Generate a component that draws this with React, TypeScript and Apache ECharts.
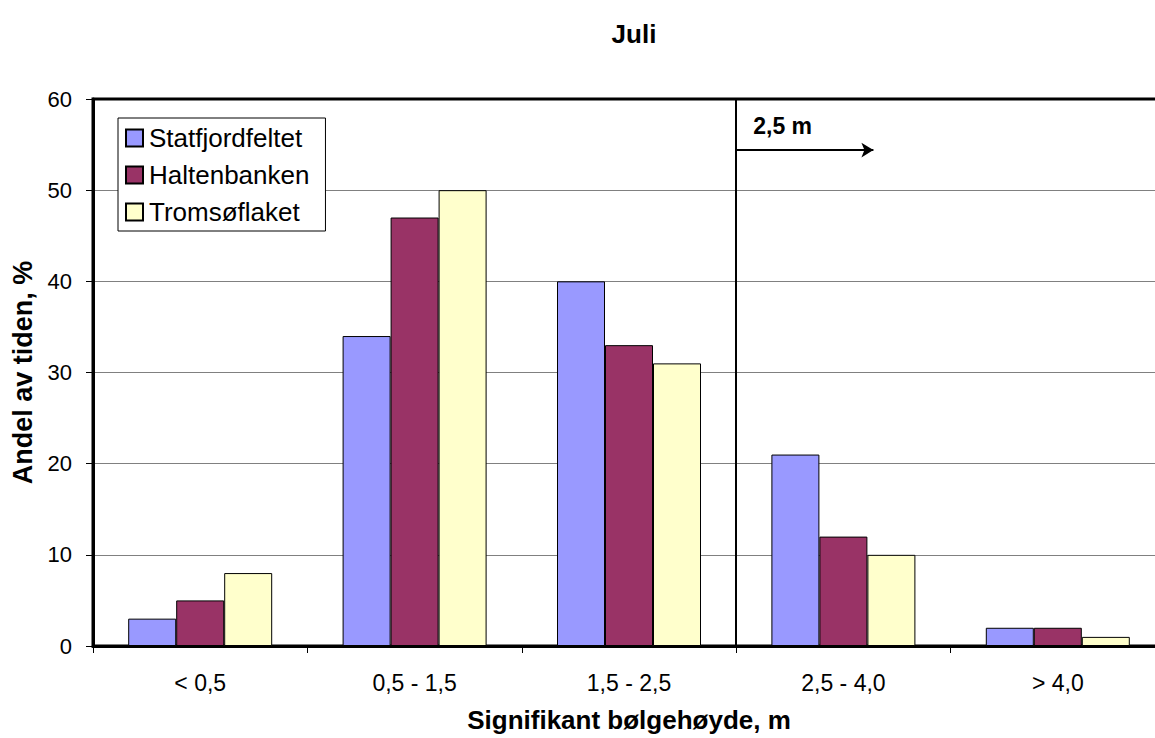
import React, { useEffect, useRef } from "react";
import * as echarts from "echarts";

const categories = ["< 0,5", "0,5 - 1,5", "1,5 - 2,5", "2,5 - 4,0", "> 4,0"];
const seriesNames = ["Statfjordfeltet", "Haltenbanken", "Tromsøflaket"];
const statfjord = [3, 34, 40, 21, 2];
const halten = [5, 47, 33, 12, 2];
const tromso = [8, 50, 31, 10, 1];
const seriesColors = ["#9999FF", "#993366", "#FFFFCC"];
const thresholdPos = 3; // boundary between "1,5 - 2,5" and "2,5 - 4,0"
const arrowEnd = 3.64;
const arrowLevel = 54.4;

const FONT = "'Liberation Sans', Arial, sans-serif";

export default function App() {
  const ref = useRef<HTMLDivElement>(null);

  useEffect(() => {
    if (!ref.current) return;
    const chart = echarts.init(ref.current, null, { renderer: "svg" });
    const values = [statfjord, halten, tromso];

    const bars = values.map((data, i) => ({
      name: seriesNames[i],
      type: "bar",
      data,
      barWidth: 48,
      barGap: "0%",
      itemStyle: { color: seriesColors[i], borderColor: "#000", borderWidth: 1 },
      emphasis: { disabled: true },
    }));

    chart.setOption({
      animation: false,
      textStyle: { fontFamily: FONT },
      title: {
        text: "Juli",
        left: 629,
        textAlign: "center",
        top: 16,
        textStyle: { fontSize: 26, fontWeight: "bold", color: "#000", fontFamily: FONT },
      },
      legend: {
        data: seriesNames,
        orient: "vertical",
        left: 118,
        top: 118,
        icon: "rect",
        itemWidth: 17,
        itemHeight: 17,
        itemGap: 11,
        padding: [7, 16, 6, 7],
        backgroundColor: "#fff",
        borderColor: "#000",
        borderWidth: 1,
        textStyle: { fontSize: 26, color: "#000", fontFamily: FONT, padding: [0, 0, 0, 1] },
      },
      grid: {
        left: 93,
        top: 99,
        right: 10,
        bottom: 90,
        show: true,
        borderColor: "#000",
        borderWidth: 3,
        backgroundColor: "transparent",
      },
      xAxis: [
        {
          type: "category",
          data: categories,
          name: "Signifikant bølgehøyde, m",
          nameLocation: "middle",
          nameGap: 61,
          nameTextStyle: { fontSize: 26, fontWeight: "bold", color: "#000", fontFamily: FONT },
          axisLine: { lineStyle: { color: "#000", width: 3 } },
          axisTick: { show: true, length: 7, lineStyle: { color: "#000", width: 1 } },
          axisLabel: { fontSize: 23, color: "#000", margin: 25, fontFamily: FONT },
        },
        {
          type: "value",
          min: 0,
          max: 5,
          show: false,
        },
      ],
      yAxis: {
        type: "value",
        min: 0,
        max: 60,
        interval: 10,
        name: "Andel av tiden, %",
        nameLocation: "middle",
        nameGap: 57,
        nameTextStyle: { fontSize: 27, fontWeight: "bold", color: "#000", fontFamily: FONT },
        axisLine: { show: true, lineStyle: { color: "#000", width: 3 } },
        axisTick: { show: true, length: 7, lineStyle: { color: "#000", width: 1 } },
        axisLabel: { fontSize: 22, color: "#000", margin: 21, fontFamily: FONT },
        splitLine: {
          show: true,
          showMinLine: false,
          showMaxLine: false,
          lineStyle: { color: "#808080", width: 1 },
        },
      },
      series: [
        ...bars,
        {
          name: "threshold",
          type: "line",
          xAxisIndex: 1,
          data: [],
          silent: true,
          markLine: {
            silent: true,
            animation: false,
            symbol: ["none", "none"],
            label: { show: false },
            lineStyle: { color: "#000", width: 2, type: "solid" },
            data: [{ xAxis: thresholdPos }],
          },
        },
        {
          name: "arrow",
          type: "line",
          xAxisIndex: 1,
          data: [],
          silent: true,
          markLine: {
            silent: true,
            animation: false,
            symbol: ["none", "arrow"],
            symbolSize: [11, 12],
            lineStyle: { color: "#000", width: 2, type: "solid" },
            label: {
              show: true,
              position: "insideStartTop",
              formatter: "2,5 m",
              fontSize: 23,
              fontWeight: "bold",
              color: "#000",
              fontFamily: FONT,
              distance: [17, 13],
            },
            data: [
              [
                { coord: [thresholdPos, arrowLevel] },
                { coord: [arrowEnd, arrowLevel] },
              ],
            ],
          },
        },
      ],
    });

    return () => chart.dispose();
  }, []);

  return (
    <div
      style={{
        position: "fixed",
        left: 0,
        top: 0,
        width: 1155,
        height: 738,
        overflow: "hidden",
        background: "#fff",
      }}
    >
      <div ref={ref} style={{ width: 1175, height: 738 }} />
    </div>
  );
}
